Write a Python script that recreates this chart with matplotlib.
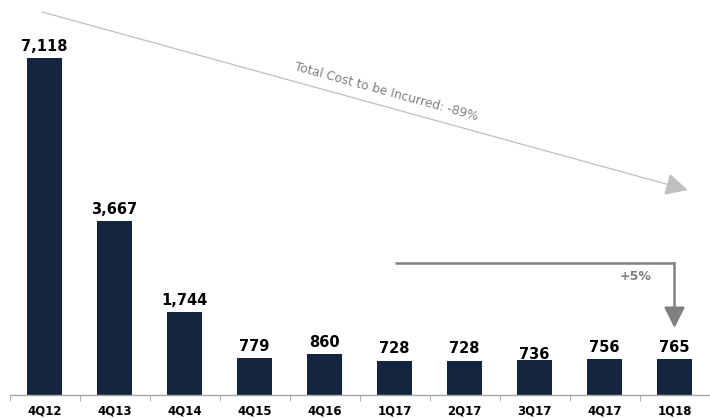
import matplotlib
matplotlib.use("Agg")
import matplotlib.pyplot as plt
import numpy as np

categories = ["4Q12", "4Q13", "4Q14", "4Q15", "4Q16", "1Q17", "2Q17", "3Q17", "4Q17", "1Q18"]
values = [7118, 3667, 1744, 779, 860, 728, 728, 736, 756, 765]
labels = ["7,118", "3,667", "1,744", "779", "860", "728", "728", "736", "756", "765"]
trend_text = "Total Cost to be Incurred: -89%"
change_text = "+5%"

plt.rcParams['font.family'] = ['DejaVu Sans']

fig = plt.figure(figsize=(7.10, 4.19), dpi=100)
ax = fig.add_axes([9.5/710, 24/419, 700/710, 395/419])

x = np.arange(len(categories))
ax.bar(x, values, width=0.5, color="#13253F", zorder=2)

label_offsets = [3, 3, 3, 3, 3, 3, 3, -1, 3, 3]
for xi, v, lab, off in zip(x, values, labels, label_offsets):
    ax.annotate(lab, (xi, v), xytext=(0, off), textcoords="offset points",
                ha="center", va="bottom", fontsize=10.5, fontweight="bold", color="black")

ax.set_xlim(-0.5, len(categories) - 0.5)
ax.set_ylim(0, 8342)
ax.set_yticks([])
for s in ["left", "right", "top"]:
    ax.spines[s].set_visible(False)
ax.spines["bottom"].set_color("#A6A6A6")
ax.spines["bottom"].set_linewidth(1.0)

ax.set_xticks(x)
ax.set_xticklabels(categories, fontsize=8.5, fontweight="bold")
ax.tick_params(axis="x", which="major", length=0, pad=6.5)
ax.set_xticks(np.arange(-0.5, len(categories), 1.0), minor=True)
ax.tick_params(axis="x", which="minor", length=4, color="#A6A6A6", direction="out")

# Diagonal trend arrow
ax.annotate("", xy=(0.969, 0.519), xytext=(0.046, 0.970),
            xycoords="axes fraction", textcoords="axes fraction",
            arrowprops=dict(arrowstyle="-|>,head_length=1.0,head_width=0.5",
                            color="#BFBFBF", lw=0.9, mutation_scale=14,
                            shrinkA=0, shrinkB=0))
ax.text(0.538, 0.767, trend_text, transform=ax.transAxes, rotation=-15.4,
        rotation_mode="anchor", ha="center", va="center", fontsize=8.8, color="#7F7F7F")

# Bracket arrow 1Q17 -> 1Q18
y_top = values[-1] + 2020
ax.plot([5, 9], [y_top, y_top], color="#808080", lw=1.8, solid_capstyle="butt", zorder=3)
ax.annotate("", xy=(9, values[-1] + 650), xytext=(9, y_top),
            arrowprops=dict(arrowstyle="-|>,head_length=0.9,head_width=0.45",
                            color="#808080", lw=1.8, mutation_scale=14,
                            shrinkA=0, shrinkB=0))
ax.text(8.45, y_top - 280, change_text, ha="center", va="center", fontsize=9,
        fontweight="bold", color="#808080")

fig.savefig("out.png", dpi=100)
